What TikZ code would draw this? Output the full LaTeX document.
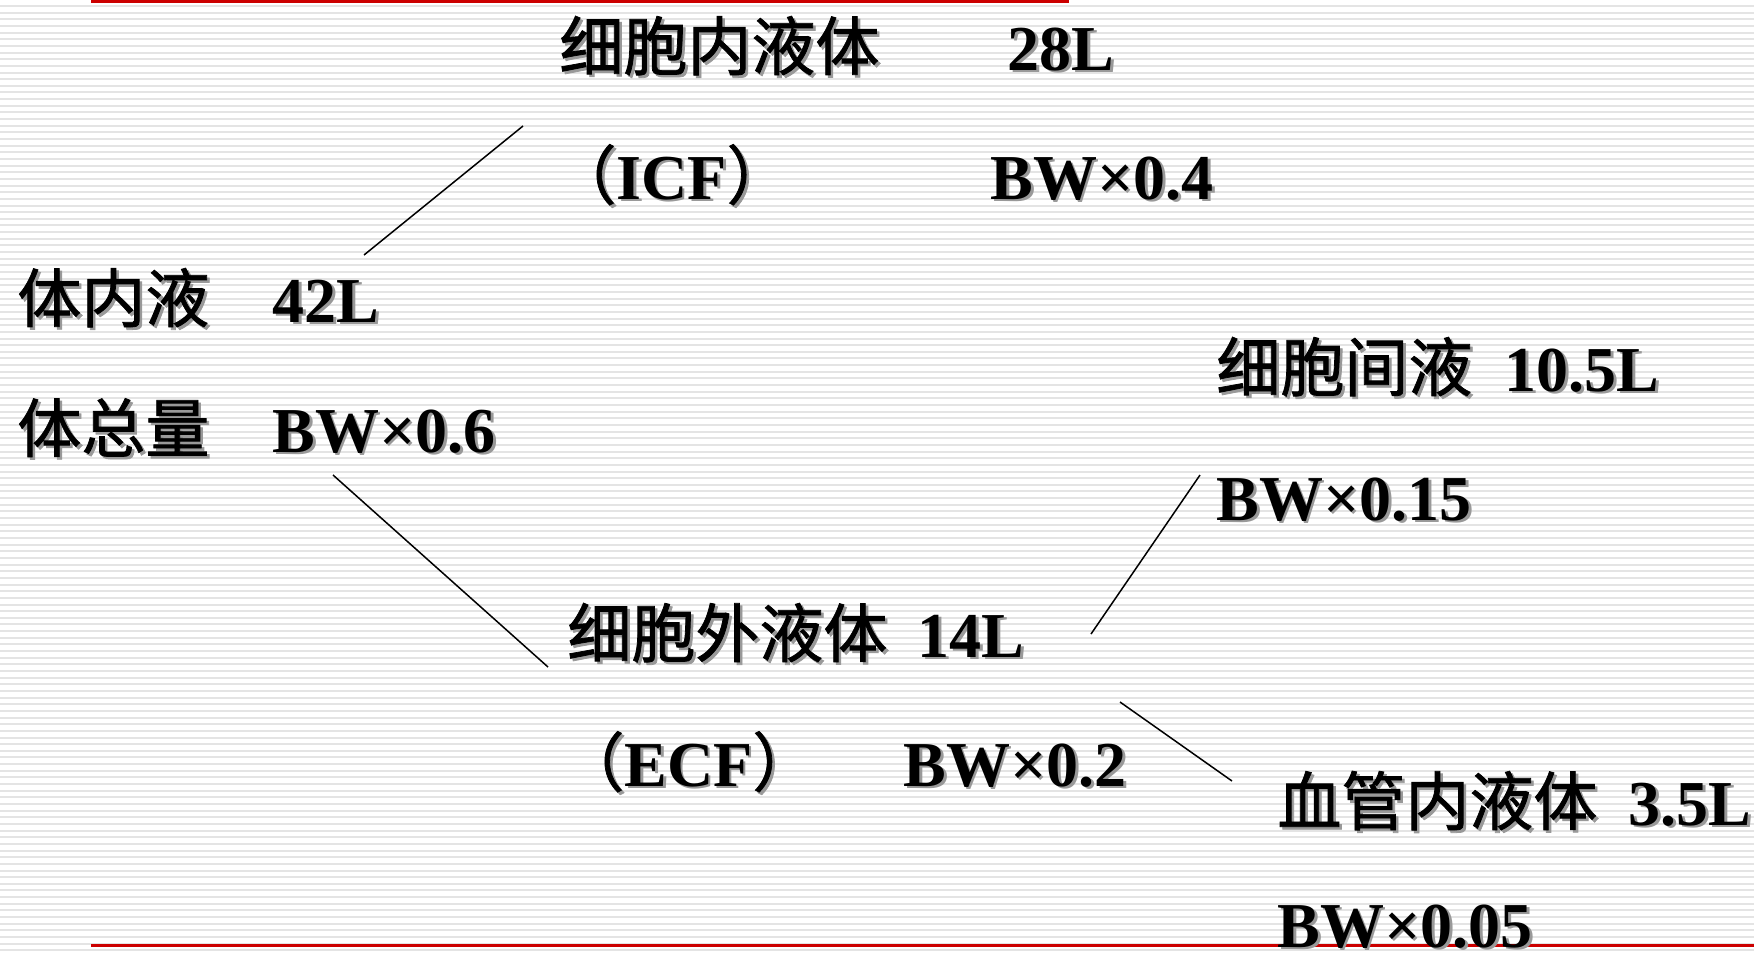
\documentclass[tikz,border=0pt]{standalone}
\usepackage{fontspec}
\setmainfont{Liberation Serif}
\newfontfamily\cjk{Noto Sans CJK SC}[FakeBold=1.2]
\definecolor{slidered}{RGB}{204,0,0}
\definecolor{stripegray}{RGB}{228,228,228}
\newcommand\shd[1]{\makebox[0pt][l]{\hspace{1.3pt}\raisebox{-1.3pt}{\color{black!40}#1}}{#1}}
\newcommand\lt[1]{{\rmfamily\bfseries #1}}
\begin{document}
\begin{tikzpicture}[x=0.5pt,y=-0.5pt,
  lat/.style={anchor=base west, inner sep=0pt, font=\fontsize{32pt}{36pt}\selectfont\bfseries},
  han/.style={anchor=base west, inner sep=0pt, font=\fontsize{32pt}{36pt}\selectfont\cjk},
  branch/.style={draw=black, line width=0.75pt},
  stripe/.style={draw=stripegray, line width=1pt},
  rule/.style={draw=slidered, line width=1.5pt}]
\fill[white] (0,0) rectangle (1754,955);
\useasboundingbox (0,0) rectangle (1754,955);
\foreach \i in {0,...,142} \draw[stripe] (0,{6+6.65*\i}) -- (1754,{6+6.65*\i});
\draw[rule] (91,1) -- (1069,1);
\draw[rule] (91,945) -- (1754,945);
% texts
\node[han] (icf) at (559,70) {\shd{细胞内液体}};
\node[lat] (icfv) at (1007,70) {\shd{28L}};
\node[han] (icfa) at (552,199) {\shd{（\lt{ICF}）}};
\node[lat] (icfb) at (990,199) {\shd{BW×0.4}};
\node[han] (tot) at (17,322) {\shd{体内液}};
\node[lat] (totv) at (272,322) {\shd{42L}};
\node[han] (tota) at (17,452) {\shd{体总量}};
\node[lat] (totb) at (272,452) {\shd{BW×0.6}};
\node[han] (isf) at (1216,391) {\shd{细胞间液}};
\node[lat] (isfv) at (1504,391) {\shd{10.5L}};
\node[lat] (isfb) at (1216,520) {\shd{BW×0.15}};
\node[han] (ecf) at (567,657) {\shd{细胞外液体}};
\node[lat] (ecfv) at (917,657) {\shd{14L}};
\node[han] (ecfa) at (560,786) {\shd{（\lt{ECF}）}};
\node[lat] (ecfb) at (903,786) {\shd{BW×0.2}};
\node[han] (ivf) at (1277,825) {\shd{血管内液体}};
\node[lat] (ivfv) at (1628,825) {\shd{3.5L}};
\node[lat] (ivfb) at (1277,947) {\shd{BW×0.05}};
% connectors
\coordinate (a1) at (364,255); \coordinate (a2) at (523,126);
\coordinate (b1) at (333,475); \coordinate (b2) at (548,667);
\coordinate (c1) at (1091,634); \coordinate (c2) at (1200,475);
\coordinate (d1) at (1120,702); \coordinate (d2) at (1232,781);
\draw[branch] (a1) -- (a2);
\draw[branch] (b1) -- (b2);
\draw[branch] (c1) -- (c2);
\draw[branch] (d1) -- (d2);
\end{tikzpicture}
\end{document}
